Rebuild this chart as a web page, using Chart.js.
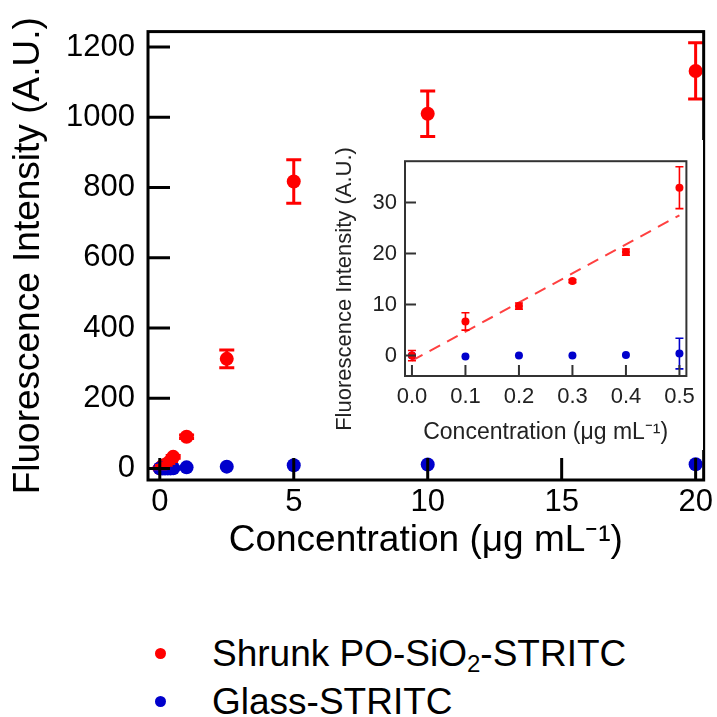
<!DOCTYPE html>
<html>
<head>
<meta charset="utf-8">
<script src="https://cdn.jsdelivr.net/npm/chart.js@4.4.0/dist/chart.umd.min.js"></script>
<style>
  body { margin: 0; background: #fff; width: 717px; height: 717px; overflow: hidden; position: relative;
         font-family: "Liberation Sans", Arial, sans-serif; }
  #main { position: absolute; left: 0; top: 0; }
  #inset { position: absolute; left: 325px; top: 140px; background: #fff; }
  .leg { position: absolute; font-size: 37px; line-height: 37px; color: #000; white-space: nowrap; }
  .leg sub { font-size: 0.65em; vertical-align: -0.25em; line-height: 0; }
  .dot { position: absolute; width: 11px; height: 11px; border-radius: 50%; }
</style>
</head>
<body>
<canvas id="main" width="717" height="565"></canvas>
<canvas id="inset" width="378" height="310"></canvas>
<div class="dot" style="left:155px;top:648px;background:rgb(255,0,0)"></div>
<div class="leg" style="left:212px;top:635px">Shrunk PO-SiO<sub>2</sub>-STRITC</div>
<div class="dot" style="left:155px;top:696px;background:rgb(0,0,204)"></div>
<div class="leg" style="left:212px;top:683px">Glass-STRITC</div>
<script>
const FONT = '"Liberation Sans", Arial, sans-serif';
const RED = 'rgb(255,0,0)';
const BLUE = 'rgb(0,0,204)';

// data
const conc = [0, 0.1, 0.2, 0.3, 0.4, 0.5, 1, 2.5, 5, 10, 20];
const shrunk = [0, 6.7, 9.7, 14.6, 20.3, 32.9, 90, 312, 817, 1010, 1132];
const shrunkErr = [1, 1.7, 0.6, 0.3, 0.6, 4.1, 5, 25, 62, 65, 80];
const glass = [0, -0.2, 0, 0, 0.1, 0.4, 3, 5, 9, 11, 12];
const glassErr = [0, 0, 0, 0, 0, 3, 0, 0, 0, 0, 0];
const fitX = [0, 0.5];
const fitY = [-1, 27.5];

const mainXTicks = [0, 5, 10, 15, 20];
const mainYTicks = [0, 200, 400, 600, 800, 1000, 1200];
const insetXTicks = [0, 0.1, 0.2, 0.3, 0.4, 0.5];
const insetYTicks = [0, 10, 20, 30];
const insetN = 6;

function pts(xs, ys) { return xs.map((x, i) => ({x: x, y: ys[i]})); }

const decor = {
  id: 'decor',
  afterDatasetsDraw(chart, args, o) {
    const ctx = chart.ctx, ys = chart.scales.y;
    chart.data.datasets.forEach((ds, i) => {
      if (!ds.errors) return;
      const meta = chart.getDatasetMeta(i);
      ctx.save();
      ctx.strokeStyle = ds.backgroundColor;
      ctx.lineWidth = o.errWidth;
      meta.data.forEach((pt, j) => {
        const e = ds.errors[j];
        if (!e) return;
        const v = ds.data[j].y;
        const y1 = ys.getPixelForValue(v + e), y2 = ys.getPixelForValue(v - e);
        ctx.beginPath();
        ctx.moveTo(pt.x, y1); ctx.lineTo(pt.x, y2);
        ctx.moveTo(pt.x - o.cap, y1); ctx.lineTo(pt.x + o.cap, y1);
        ctx.moveTo(pt.x - o.cap, y2); ctx.lineTo(pt.x + o.cap, y2);
        ctx.stroke();
      });
      ctx.restore();
    });
  },
  afterDraw(chart, args, o) {
    const ctx = chart.ctx, a = chart.chartArea;
    const xs = chart.scales.x, ys = chart.scales.y;
    ctx.save();
    ctx.strokeStyle = o.color;
    ctx.lineWidth = o.width;
    ctx.strokeRect(a.left, a.top, a.right - a.left, a.bottom - a.top);
    ctx.beginPath();
    xs.ticks.forEach(t => {
      const x = xs.getPixelForValue(t.value);
      ctx.moveTo(x, a.bottom); ctx.lineTo(x, a.bottom - o.tick);
    });
    ys.ticks.forEach(t => {
      const y = ys.getPixelForValue(t.value);
      ctx.moveTo(a.left, y); ctx.lineTo(a.left + o.tick, y);
    });
    ctx.stroke();
    if (o.yTitle) {
      ctx.translate(o.yTitle.x, o.yTitle.y);
      ctx.rotate(-Math.PI / 2);
      ctx.fillStyle = o.yTitle.color;
      ctx.font = o.yTitle.size + 'px ' + FONT;
      ctx.textAlign = 'center';
      ctx.textBaseline = 'middle';
      ctx.fillText(o.yTitle.text, 0, 0);
    }
    ctx.restore();
  }
};

// main chart
new Chart(document.getElementById('main'), {
  type: 'scatter',
  data: {
    datasets: [
      { label: 'Glass-STRITC', data: pts(conc, glass), errors: glassErr,
        backgroundColor: BLUE, borderWidth: 0, pointRadius: 7 },
      { label: 'Shrunk PO-SiO2-STRITC', data: pts(conc, shrunk), errors: shrunkErr,
        backgroundColor: RED, borderWidth: 0, pointRadius: 7 }
    ]
  },
  options: {
    responsive: false,
    animation: false,
    layout: { padding: { top: 20, right: 9, left: 0, bottom: 0 } },
    plugins: {
      legend: { display: false },
      tooltip: { enabled: false },
      decor: { color: '#000', width: 3, tick: 22, errWidth: 3, cap: 7.5 }
    },
    scales: {
      x: {
        type: 'linear', min: -0.44, max: 20.3,
        afterBuildTicks: s => { s.ticks = mainXTicks.map(v => ({value: v})); },
        afterFit: s => { s.height = 85; },
        grid: { display: false, drawTicks: false },
        border: { display: false },
        ticks: { color: '#000', padding: 4, font: { family: FONT, size: 31 }, callback: v => String(v) },
        title: { display: true, text: 'Concentration (μg mL⁻¹)', color: '#000',
                 padding: { top: 0, bottom: 2 }, font: { family: FONT, size: 37 } }
      },
      y: {
        min: -33, max: 1244,
        afterBuildTicks: s => { s.ticks = mainYTicks.map(v => ({value: v})); },
        afterFit: s => { s.width = 148; },
        grid: { display: false, drawTicks: false },
        border: { display: false },
        ticks: { color: '#000', padding: 13, font: { family: FONT, size: 31 }, callback: v => String(v) },
        title: { display: true, text: 'Fluorescence Intensity (A.U.)', color: '#000',
                 padding: { top: 7, bottom: 0 }, font: { family: FONT, size: 37 } }
      }
    }
  },
  plugins: [decor]
});

// inset chart
new Chart(document.getElementById('inset'), {
  type: 'scatter',
  data: {
    datasets: [
      { label: 'Shrunk', data: pts(conc.slice(0, insetN), shrunk.slice(0, insetN)),
        errors: shrunkErr.slice(0, insetN), backgroundColor: RED, borderWidth: 0, pointRadius: 4 },
      { label: 'Glass', data: pts(conc.slice(0, insetN), glass.slice(0, insetN)),
        errors: glassErr.slice(0, insetN), backgroundColor: BLUE, borderWidth: 0, pointRadius: 4 },
      { type: 'line', label: 'fit', data: pts(fitX, fitY), borderColor: 'rgb(255,64,64)',
        borderWidth: 2, borderDash: [12, 8], pointRadius: 0, fill: false }
    ]
  },
  options: {
    responsive: false,
    animation: false,
    layout: { padding: { top: 14, right: 11, left: 0, bottom: 0 } },
    plugins: {
      legend: { display: false },
      tooltip: { enabled: false },
      decor: { color: '#333', width: 2, tick: 11, errWidth: 1.6, cap: 4,
               yTitle: { text: 'Fluorescence Intensity (A.U.)', x: 20, y: 149, size: 22, color: '#222' } }
    },
    scales: {
      x: {
        type: 'linear', min: -0.013, max: 0.513,
        afterBuildTicks: s => { s.ticks = insetXTicks.map(v => ({value: v})); },
        afterFit: s => { s.height = 74; },
        grid: { display: false, drawTicks: false },
        border: { display: false },
        ticks: { color: '#222', padding: 8, font: { family: FONT, size: 22 },
                 callback: v => Number(v).toFixed(1) },
        title: { display: true, text: 'Concentration (μg mL⁻¹)', color: '#222',
                 padding: { top: 0, bottom: 4 }, font: { family: FONT, size: 23 } }
      },
      y: {
        min: -4, max: 38.1,
        afterBuildTicks: s => { s.ticks = insetYTicks.map(v => ({value: v})); },
        afterFit: s => { s.width = 80; },
        grid: { display: false, drawTicks: false },
        border: { display: false },
        ticks: { color: '#222', padding: 8, font: { family: FONT, size: 22 }, callback: v => String(v) }
      }
    }
  },
  plugins: [decor]
});
</script>
</body>
</html>
